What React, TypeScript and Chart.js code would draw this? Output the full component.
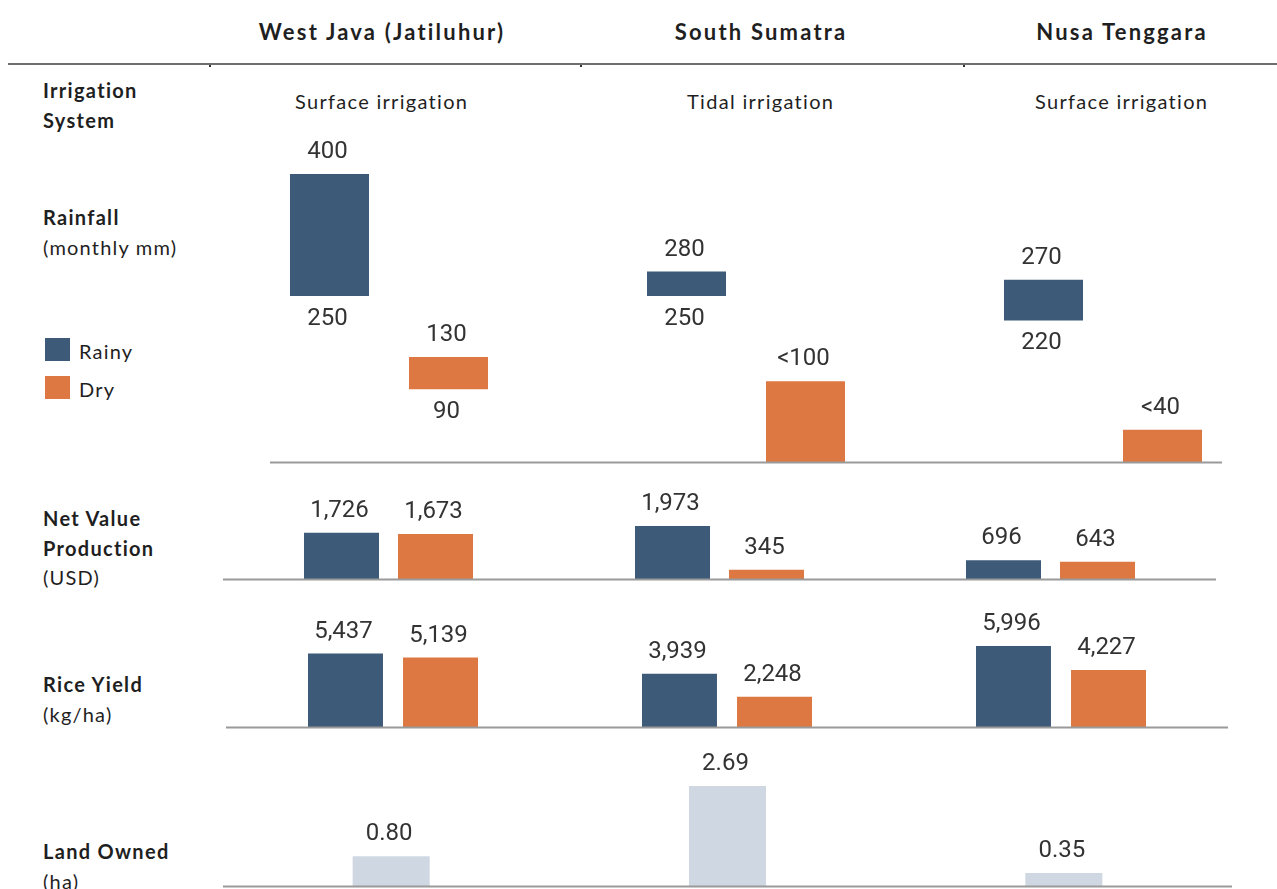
import React, { useEffect, useRef } from "react";
import { Chart, registerables } from "chart.js";

Chart.register(...registerables);

// ---------------- DATA ----------------
const regions = ["West Java (Jatiluhur)", "South Sumatra", "Nusa Tenggara"];
const irrigationSystems = ["Surface irrigation", "Tidal irrigation", "Surface irrigation"];
const seasons = ["Rainy", "Dry"];

// Rainfall (monthly mm) ranges [low, high]
const rainfallRainy: [number, number][] = [[250, 400], [250, 280], [220, 270]];
const rainfallDry: [number, number][] = [[90, 130], [0, 100], [0, 40]];
const rainfallRainyTopLabels = ["400", "280", "270"];
const rainfallRainyBottomLabels = ["250", "250", "220"];
const rainfallDryTopLabels = ["130", "<100", "<40"];
const rainfallDryBottomLabels = ["90", "", ""];

// Net value production (USD)
const netValueRainy = [1726, 1973, 696];
const netValueDry = [1673, 345, 643];

// Rice yield (kg/ha)
const riceYieldRainy = [5437, 3939, 5996];
const riceYieldDry = [5139, 2248, 4227];

// Land owned (ha)
const landOwned = [0.8, 2.69, 0.35];

// ---------------- STYLE ----------------
const RAINY = "#3d5a78";
const DRY = "#dd7843";
const LAND = "#cfd8e2";
const AXIS = "#9a9a9a";
const VALUE_FONT = "24px Roboto";
const VALUE_COLOR = "#333333";
const TEXT_FONT = "Lato, 'Open Sans', sans-serif";
const W = 1277;

const fmtInt = (v: number) => v.toLocaleString("en-US");
const fmt2 = (v: number) => v.toFixed(2);

// draws a baseline along the bottom of the chart area
const baselinePlugin = {
  id: "baseline",
  afterDatasetsDraw(chart: any) {
    const { ctx, chartArea } = chart;
    ctx.save();
    ctx.strokeStyle = AXIS;
    ctx.lineWidth = 2;
    ctx.beginPath();
    ctx.moveTo(chartArea.left, chartArea.bottom + 0.5);
    ctx.lineTo(chartArea.right, chartArea.bottom + 0.5);
    ctx.stroke();
    ctx.restore();
  },
};

// draws value labels above (and optionally below) bars
const valueLabelPlugin = {
  id: "valueLabels",
  afterDatasetsDraw(chart: any) {
    const { ctx } = chart;
    ctx.save();
    ctx.font = VALUE_FONT;
    ctx.fillStyle = VALUE_COLOR;
    ctx.textAlign = "center";
    ctx.textBaseline = "middle";
    chart.data.datasets.forEach((ds: any, di: number) => {
      const meta = chart.getDatasetMeta(di);
      meta.data.forEach((bar: any, i: number) => {
        const raw = ds.data[i];
        if (raw === null || raw === undefined) return;
        const top = ds.topLabels ? ds.topLabels[i] : "";
        const bottom = ds.bottomLabels ? ds.bottomLabels[i] : "";
        const t = Math.min(bar.y, bar.base);
        const b = Math.max(bar.y, bar.base);
        if (top) ctx.fillText(top, bar.x - 2, t - 22);
        if (bottom) ctx.fillText(bottom, bar.x - 2, b + 23);
      });
    });
    ctx.restore();
  },
};

function BarRow({ top, height, makeConfig }: { top: number; height: number; makeConfig: () => any }) {
  const ref = useRef<HTMLCanvasElement>(null);
  useEffect(() => {
    const chart = new Chart(ref.current as HTMLCanvasElement, makeConfig());
    return () => chart.destroy();
  }, []);
  return (
    <canvas
      ref={ref}
      width={W}
      height={height}
      style={{ position: "absolute", left: 0, top, width: W, height, display: "block" }}
    />
  );
}

const baseOptions = (padding: any, scales: any) => ({
  responsive: false,
  animation: false,
  events: [],
  layout: { padding },
  plugins: { legend: { display: false }, tooltip: { enabled: false } },
  scales,
});

// Rainfall: each region occupies slots [rainy, dry, gap]
const rainfallSlots: string[] = [];
regions.forEach((r, i) => {
  rainfallSlots.push(`${r} ${seasons[0]}`, `${r} ${seasons[1]}`);
  if (i < regions.length - 1) rainfallSlots.push("");
});
const toSlots = (vals: any[], pos: number) =>
  rainfallSlots.map((_, s) => (s % 3 === pos ? vals[Math.floor(s / 3)] : null));

const rainfallConfig = () => ({
  type: "bar",
  data: {
    labels: rainfallSlots,
    datasets: [
      {
        label: seasons[0],
        data: toSlots(rainfallRainy, 0),
        topLabels: toSlots(rainfallRainyTopLabels, 0),
        bottomLabels: toSlots(rainfallRainyBottomLabels, 0),
        backgroundColor: RAINY,
        yAxisID: "yRainy",
        grouped: false,
        categoryPercentage: 1,
        barPercentage: 0.664,
      },
      {
        label: seasons[1],
        data: toSlots(rainfallDry, 1),
        topLabels: toSlots(rainfallDryTopLabels, 1),
        bottomLabels: toSlots(rainfallDryBottomLabels, 1),
        backgroundColor: DRY,
        yAxisID: "yDry",
        grouped: false,
        categoryPercentage: 1,
        barPercentage: 0.664,
      },
    ],
  },
  options: baseOptions(
    { left: 270, right: W - 1222, top: 10, bottom: 8 },
    {
      x: { type: "category", display: false, offset: true },
      yRainy: { type: "linear", display: false, min: 45.9, max: 441.8 },
      yDry: { type: "linear", display: false, min: 0, max: 398.7 },
    }
  ),
  plugins: [baselinePlugin, valueLabelPlugin],
});

const pairConfig = (
  rainy: number[],
  dry: number[],
  max: number,
  padding: any,
  cp: number,
  bp: number
) => () => ({
  type: "bar",
  data: {
    labels: regions,
    datasets: [
      {
        label: seasons[0],
        data: rainy,
        topLabels: rainy.map(fmtInt),
        backgroundColor: RAINY,
        categoryPercentage: cp,
        barPercentage: bp,
      },
      {
        label: seasons[1],
        data: dry,
        topLabels: dry.map(fmtInt),
        backgroundColor: DRY,
        categoryPercentage: cp,
        barPercentage: bp,
      },
    ],
  },
  options: baseOptions(padding, {
    x: { type: "category", display: false, offset: true },
    y: { type: "linear", display: false, min: 0, max },
  }),
  plugins: [baselinePlugin, valueLabelPlugin],
});

const netValueConfig = pairConfig(netValueRainy, netValueDry, 2941, { left: 223, right: W - 1216, top: 20, bottom: 11 }, 0.568, 0.798);
const riceYieldConfig = pairConfig(riceYieldRainy, riceYieldDry, 7920, { left: 226, right: W - 1228, top: 20, bottom: 10 }, 0.569, 0.789);

const landConfig = () => ({
  type: "bar",
  data: {
    labels: regions,
    datasets: [
      {
        label: "Land Owned",
        data: landOwned,
        topLabels: landOwned.map(fmt2),
        backgroundColor: LAND,
        categoryPercentage: 1,
        barPercentage: 0.229,
      },
    ],
  },
  options: baseOptions(
    { left: 223, right: W - 1232, top: 20, bottom: 3 },
    {
      x: { type: "category", display: false, offset: true },
      y: { type: "linear", display: false, min: 0, max: 3.387 },
    }
  ),
  plugins: [baselinePlugin, valueLabelPlugin],
});

// ---------------- TEXT HELPERS ----------------
const abs = (left: number, top: number, extra: any = {}) => ({ position: "absolute" as const, left, top, ...extra });

function RowLabel({ top, bold, normal }: { top: number; bold: string[]; normal?: string }) {
  return (
    <div
      style={abs(43, top, {
        fontFamily: TEXT_FONT,
        fontSize: 20,
        lineHeight: "29.5px",
        color: "#1f1f1f",
        whiteSpace: "nowrap",
      })}
    >
      {bold.map((b) => (
        <div key={b} style={{ fontWeight: 700, letterSpacing: "1.3px" }}>{b}</div>
      ))}
      {normal ? <div style={{ letterSpacing: "1.2px" }}>{normal}</div> : null}
    </div>
  );
}

const headerCenters = [381, 760, 1121];

export default function App() {
  return (
    <div style={{ position: "absolute", left: 0, top: 0, width: W, height: 889, overflow: "hidden", background: "#fff" }}>
      {regions.map((r, i) => (
        <div
          key={r}
          style={abs(headerCenters[i] - 250, 20, {
            width: 500,
            textAlign: "center",
            fontFamily: TEXT_FONT,
            fontWeight: 700,
            fontSize: 22,
            letterSpacing: "2.2px",
            paddingLeft: "2.2px",
            boxSizing: "border-box",
            lineHeight: "24px",
            color: "#1f1f1f",
            whiteSpace: "nowrap",
          })}
        >
          {r}
        </div>
      ))}
      <div style={abs(8, 63, { width: W - 8, height: 2, background: "#6e6e6e" })} />
      {[209, 580, 963].map((x) => (
        <div key={x} style={abs(x, 65, { width: 2, height: 2, background: "#333" })} />
      ))}
      {irrigationSystems.map((s, i) => (
        <div
          key={i}
          style={abs(headerCenters[i] - 250, 89, {
            width: 500,
            textAlign: "center",
            fontFamily: TEXT_FONT,
            fontSize: 20,
            letterSpacing: "1.3px",
            paddingLeft: "1.3px",
            boxSizing: "border-box",
            lineHeight: "24px",
            color: "#1f1f1f",
            whiteSpace: "nowrap",
          })}
        >
          {s}
        </div>
      ))}

      <RowLabel top={76} bold={["Irrigation", "System"]} />
      <RowLabel top={203} bold={["Rainfall"]} normal="(monthly mm)" />
      <RowLabel top={504} bold={["Net Value", "Production"]} normal="(USD)" />
      <RowLabel top={670} bold={["Rice Yield"]} normal="(kg/ha)" />
      <RowLabel top={837} bold={["Land Owned"]} normal="(ha)" />

      {seasons.map((s, i) => (
        <div key={s}>
          <div style={abs(45, 338 + i * 38, { width: 25, height: 23, background: i === 0 ? RAINY : DRY })} />
          <div
            style={abs(79, 338 + i * 38, {
              fontFamily: TEXT_FONT,
              fontSize: 20,
              letterSpacing: "1.2px",
              lineHeight: "26px",
              color: "#1f1f1f",
            })}
          >
            {s}
          </div>
        </div>
      ))}

      <BarRow top={130} height={340} makeConfig={rainfallConfig} />
      <BarRow top={480} height={110} makeConfig={netValueConfig} />
      <BarRow top={600} height={137} makeConfig={riceYieldConfig} />
      <BarRow top={740} height={149} makeConfig={landConfig} />
    </div>
  );
}
